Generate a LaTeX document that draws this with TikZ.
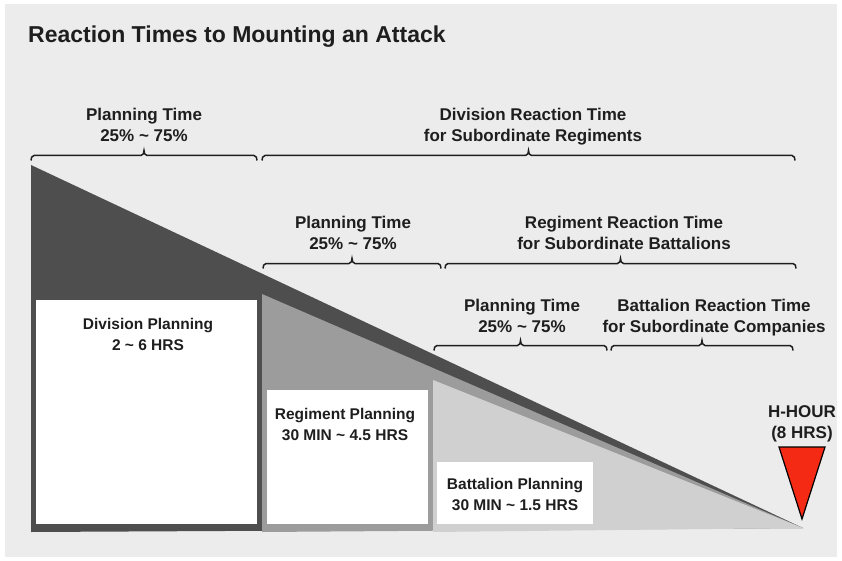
\documentclass[tikz,border=0pt]{standalone}
\usepackage{fontspec}
\setmainfont{Liberation Sans}
\usetikzlibrary{calc}
\definecolor{ink}{HTML}{1E1E1E}
\definecolor{panel}{HTML}{ECECEC}
\definecolor{divgrey}{HTML}{4E4E4E}
\definecolor{reggrey}{HTML}{9C9C9C}
\definecolor{batgrey}{HTML}{D0D0D0}
\definecolor{hred}{HTML}{F52A14}
% flat bracket with hooked ends and a small centre tick, between two named points
\newcommand{\spanbracket}[3]{%
  \coordinate (#3) at ($(#1)!0.5!(#2)$);
  \draw[bracketline] ([yshift=-5pt]#1) to[out=90,in=180] ([xshift=3pt]#1)
    -- ([xshift=-3pt]#3) to[out=0,in=-90] ([yshift=5pt]#3)
    to[out=-90,in=180] ([xshift=3pt]#3)
    -- ([xshift=-3pt]#2) to[out=0,in=90] ([yshift=-5pt]#2);}
\begin{document}
\begin{tikzpicture}[x=1pt,y=-1pt,
  txt/.style={inner sep=0pt, text=ink, align=center, anchor=north,
    font=\bfseries\fontsize{17}{21}\selectfont},
  boxtxt/.style={txt, font=\bfseries\fontsize{15.5}{21}\selectfont},
  bracketline/.style={draw=ink, line width=1.5pt},
  planbox/.style={fill=white, draw=none}]
\useasboundingbox (0,0) rectangle (842,561);
% page and grey panel
\fill[white] (0,0) rectangle (842,561);
\fill[panel] (5,4) rectangle (837,557);

% title
\node[anchor=base west, inner sep=0pt, text=ink,
  font=\bfseries\fontsize{23}{28}\selectfont] (title) at (28,43)
  {Reaction Times to Mounting an Attack};

% the three planning wedges, all closing on H-hour
\coordinate (hpt) at (803,528);
\fill[divgrey] (31,165) -- (31,532) -- (hpt) -- cycle;
\fill[reggrey] (262,294) -- (262,532) -- (hpt) -- cycle;
\fill[batgrey] (433,380) -- (433,532) -- (hpt) -- cycle;

% white planning boxes
\fill[planbox] (36,300) rectangle (257,524);
\fill[planbox] (267,390) rectangle (428,524);
\fill[planbox] (437,462) rectangle (593,524);

% H-hour marker
\draw[fill=hred, draw=black, line width=1.2pt, line join=miter]
  (779,447) -- (825,447) -- (802,519) -- cycle;

% bracket end points
\coordinate (a1) at (31,155.5);  \coordinate (a2) at (257,155.5);
\coordinate (a3) at (262,155.5); \coordinate (a4) at (795,155.5);
\coordinate (b1) at (263,263.5); \coordinate (b2) at (441,263.5);
\coordinate (b3) at (445,263.5); \coordinate (b4) at (796,263.5);
\coordinate (c1) at (434,345.5); \coordinate (c2) at (607,345.5);
\coordinate (c3) at (611,345.5); \coordinate (c4) at (793,345.5);

\spanbracket{a1}{a2}{am1}
\spanbracket{a3}{a4}{am2}
\spanbracket{b1}{b2}{bm1}
\spanbracket{b3}{b4}{bm2}
\spanbracket{c1}{c2}{cm1}
\spanbracket{c3}{c4}{cm2}

% bracket labels
\node[txt] (pta) at (144,108) {Planning Time\\25\% \textasciitilde{} 75\%};
\node[txt] (dre) at (533,108) {Division Reaction Time\\for Subordinate Regiments};
\node[txt] (ptb) at (353,216) {Planning Time\\25\% \textasciitilde{} 75\%};
\node[txt] (rre) at (624,216) {Regiment Reaction Time\\for Subordinate Battalions};
\node[txt] (ptc) at (522,299) {Planning Time\\25\% \textasciitilde{} 75\%};
\node[txt] (bre) at (714,299) {Battalion Reaction Time\\for Subordinate Companies};

% box labels
\node[boxtxt] (dpl) at (148,318) {Division Planning\\2 \textasciitilde{} 6 HRS};
\node[boxtxt] (rpl) at (345,408) {Regiment Planning\\30 MIN \textasciitilde{} 4.5 HRS};
\node[boxtxt] (bpl) at (515,478) {Battalion Planning\\30 MIN \textasciitilde{} 1.5 HRS};

% H-hour label
\node[txt] (hh) at (802,405) {H-HOUR\\(8 HRS)};
\end{tikzpicture}
\end{document}
